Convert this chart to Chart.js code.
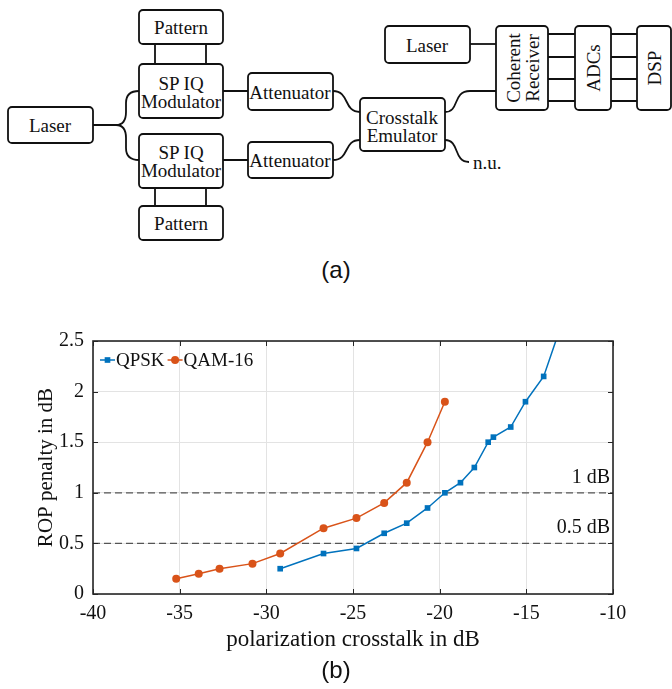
<!DOCTYPE html>
<html>
<head>
<meta charset="utf-8">
<script src="https://cdn.jsdelivr.net/npm/chart.js@4/dist/chart.umd.min.js"></script>
<style>
  html, body { margin: 0; padding: 0; background: white; }
  #page { position: relative; width: 672px; height: 689px; overflow: hidden; background: white; }
  #diagram { position: absolute; left: 0; top: 0; }
  #diagram text { font-family: 'Liberation Serif', serif; font-size: 19px; fill: #111; }
  .box { fill: white; stroke: #111; stroke-width: 1.8; }
  .wire { fill: none; stroke: #111; stroke-width: 1.8; }
  .cap { position: absolute; width: 672px; text-align: center; font-family: 'Liberation Sans', Arial, sans-serif; font-size: 24px; color: #111; }
  #chartWrap { position: absolute; left: 0; top: 320px; width: 672px; height: 340px; }
</style>
</head>
<body>
<div id="page">
  <svg id="diagram" width="672" height="250" xmlns="http://www.w3.org/2000/svg">
    <!-- wires -->
    <path class="wire" d="M155 44 V64 M206 44 V64 M155 188 V206 M206 188 V206"/>
    <path class="wire" d="M223 91 H248 M223 160 H248"/>
    <path class="wire" d="M93 125 H116 Q126 125 126 112 V103 Q126 91 139 91"/>
    <path class="wire" d="M116 125 Q126 125 126 138 V148 Q126 160 139 160"/>
    <path class="wire" d="M333 91 C350 91 343 112 360 112"/>
    <path class="wire" d="M333 160 C350 160 343 140 360 140"/>
    <path class="wire" d="M445 112 C460 112 452 91 470 91 H496"/>
    <path class="wire" d="M445 140 C460 140 453 162 469 162"/>
    <path class="wire" d="M470 44 H496"/>
    <path class="wire" d="M548 34 H575 M548 57 H575 M548 79 H575 M548 101 H575"/>
    <path class="wire" d="M611 34 H637 M611 57 H637 M611 79 H637 M611 101 H637"/>
    <!-- boxes -->
    <rect class="box" x="139" y="10" width="84" height="34" rx="4"/>
    <rect class="box" x="139" y="64" width="84" height="54" rx="4"/>
    <rect class="box" x="139" y="134" width="84" height="54" rx="4"/>
    <rect class="box" x="139" y="206" width="84" height="34" rx="4"/>
    <rect class="box" x="8" y="107" width="85" height="36" rx="4"/>
    <rect class="box" x="248" y="73" width="85" height="37" rx="4"/>
    <rect class="box" x="248" y="142" width="85" height="36" rx="4"/>
    <rect class="box" x="360" y="98" width="85" height="53" rx="4"/>
    <rect class="box" x="385" y="26" width="85" height="37" rx="4"/>
    <rect class="box" x="496" y="26" width="52" height="84" rx="4"/>
    <rect class="box" x="575" y="26" width="36" height="84" rx="4"/>
    <rect class="box" x="637" y="26" width="34" height="84" rx="4"/>
    <!-- labels -->
    <g text-anchor="middle" dominant-baseline="central">
      <text x="181" y="27">Pattern</text>
      <text x="181" y="83">SP IQ</text>
      <text x="181" y="101">Modulator</text>
      <text x="181" y="152">SP IQ</text>
      <text x="181" y="170">Modulator</text>
      <text x="181" y="223">Pattern</text>
      <text x="50" y="125">Laser</text>
      <text x="290" y="92">Attenuator</text>
      <text x="290" y="160">Attenuator</text>
      <text x="402" y="117">Crosstalk</text>
      <text x="402" y="135">Emulator</text>
      <text x="427" y="45">Laser</text>
      <text transform="translate(513 68) rotate(-90)">Coherent</text>
      <text transform="translate(532 68) rotate(-90)">Receiver</text>
      <text transform="translate(593 68) rotate(-90)">ADCs</text>
      <text transform="translate(654 68) rotate(-90)">DSP</text>
    </g>
    <text x="473" y="162" dominant-baseline="central">n.u.</text>
  </svg>
  <div class="cap" style="top:256px;">(a)</div>
  <div id="chartWrap"><canvas id="resultChart" width="672" height="340"></canvas></div>
  <div class="cap" style="top:656px;">(b)</div>
</div>

<script>
// values
var xTicks = [-40, -35, -30, -25, -20, -15, -10]
var yTicks = [0, 0.5, 1, 1.5, 2, 2.5]

var qpskX = [-29.2, -26.7, -24.8, -23.2, -21.9, -20.7, -19.7, -18.8, -18.0, -17.2, -16.9, -15.9, -15.05, -14.0, -13.0]
var qpskY = [0.25, 0.40, 0.45, 0.60, 0.70, 0.85, 1.00, 1.10, 1.25, 1.50, 1.55, 1.65, 1.90, 2.15, 2.65]

var qamX = [-35.2, -33.9, -32.7, -30.8, -29.2, -26.7, -24.8, -23.2, -21.9, -20.7, -19.7]
var qamY = [0.15, 0.20, 0.25, 0.30, 0.40, 0.65, 0.75, 0.90, 1.10, 1.50, 1.90]

var refY = [1, 0.5]
var refLabels = ["1 dB", "0.5 dB"]

var seriesNames = ["QPSK", "QAM-16"]
var serif = "'Liberation Serif', 'Times New Roman', serif"
var axisColor = "#262626"

function pairs(xs, ys){
    return xs.map((x, i) => ({ x: x, y: ys[i] }))
}

var datasets = [
    {
        label: seriesNames[0],
        data: pairs(qpskX, qpskY),
        borderColor: "#0072BD",
        backgroundColor: "#0072BD",
        borderWidth: 1.5,
        pointStyle: "rect",
        pointRadius: 4,
        pointBorderWidth: 0
    },
    {
        label: seriesNames[1],
        data: pairs(qamX, qamY),
        borderColor: "#D95319",
        backgroundColor: "#D95319",
        borderWidth: 1.5,
        pointStyle: "circle",
        pointRadius: 4,
        pointBorderWidth: 0
    }
]

refY.forEach(function(v){
    datasets.push({
        label: "",
        isRef: true,
        data: [{ x: xTicks[0], y: v }, { x: xTicks[xTicks.length - 1], y: v }],
        borderColor: "#555555",
        borderWidth: 1.3,
        borderDash: [7, 4],
        pointRadius: 0
    })
})

// box, inside ticks, legend and the dB labels (MATLAB look)
var matlabLook = {
    id: "matlabLook",
    afterDraw(chart) {
        const ctx = chart.ctx
        const a = chart.chartArea
        const xs = chart.scales.x
        const ys = chart.scales.y

        ctx.save()
        ctx.strokeStyle = axisColor
        ctx.lineWidth = 1
        xTicks.forEach(function(t){
            const px = Math.round(xs.getPixelForValue(t)) + 0.5
            ctx.beginPath()
            ctx.moveTo(px, a.bottom); ctx.lineTo(px, a.bottom - 5)
            ctx.moveTo(px, a.top); ctx.lineTo(px, a.top + 5)
            ctx.stroke()
        })
        yTicks.forEach(function(t){
            const py = Math.round(ys.getPixelForValue(t)) + 0.5
            ctx.beginPath()
            ctx.moveTo(a.left, py); ctx.lineTo(a.left + 5, py)
            ctx.moveTo(a.right, py); ctx.lineTo(a.right - 5, py)
            ctx.stroke()
        })
        ctx.lineWidth = 1.6
        ctx.strokeRect(a.left, a.top, a.right - a.left, a.bottom - a.top)

        // reference labels
        ctx.fillStyle = "#111"
        ctx.font = "20px " + serif
        ctx.textAlign = "right"
        ctx.textBaseline = "alphabetic"
        refY.forEach(function(v, i){
            ctx.fillText(refLabels[i], a.right - 3, ys.getPixelForValue(v) - 10)
        })

        // legend
        let cx = a.left + 7
        const cy = a.top + 19
        ctx.font = "19px " + serif
        ctx.textAlign = "left"
        ctx.textBaseline = "middle"
        chart.data.datasets.forEach(function(ds){
            if (ds.isRef) return
            ctx.strokeStyle = ds.borderColor
            ctx.lineWidth = 1.5
            ctx.beginPath()
            ctx.moveTo(cx, cy); ctx.lineTo(cx + 15, cy)
            ctx.stroke()
            ctx.fillStyle = ds.backgroundColor
            Chart.helpers.drawPoint(ctx, { pointStyle: ds.pointStyle, radius: 4, rotation: 0, borderWidth: 0 }, cx + 7.5, cy)
            ctx.fillStyle = "#111"
            ctx.fillText(ds.label, cx + 16, cy + 1)
            cx += 16 + ctx.measureText(ds.label).width + 3
        })
        ctx.restore()
    }
}

var ctx = document.getElementById("resultChart").getContext("2d")
var chart = new Chart(ctx, {
    type: "line",
    data: { datasets: datasets },
    plugins: [matlabLook],
    options: {
        responsive: false,
        animation: false,
        events: [],
        layout: { padding: { top: 18, right: 59, left: 0, bottom: 0 } },
        plugins: {
            legend: { display: false },
            tooltip: { enabled: false }
        },
        scales: {
            x: {
                type: "linear",
                min: xTicks[0],
                max: xTicks[xTicks.length - 1],
                afterBuildTicks: function(scale){ scale.ticks = xTicks.map(v => ({ value: v })) },
                afterFit: function(scale){ scale.height = 66 },
                ticks: { color: "#111", font: { family: serif, size: 20 }, padding: 8, maxRotation: 0,
                         callback: function(v){ return String(v) } },
                grid: { color: "#e3e3e3", lineWidth: 1, drawTicks: false },
                border: { display: false },
                title: {
                    display: true,
                    text: "polarization crosstalk in dB",
                    color: "#111",
                    font: { family: serif, size: 23 },
                    padding: { top: 0, bottom: 6 }
                }
            },
            y: {
                type: "linear",
                min: yTicks[0],
                max: yTicks[yTicks.length - 1],
                afterBuildTicks: function(scale){ scale.ticks = yTicks.map(v => ({ value: v })) },
                afterFit: function(scale){ scale.width = 93 },
                ticks: { color: "#111", font: { family: serif, size: 20 }, padding: 9,
                         callback: function(v){ return String(v) } },
                grid: { color: "#e3e3e3", lineWidth: 1, drawTicks: false },
                border: { display: false },
                title: {
                    display: true,
                    text: "ROP penalty in dB",
                    color: "#111",
                    font: { family: serif, size: 21 },
                    padding: { top: 34, bottom: 0 }
                }
            }
        }
    }
})
</script>
</body>
</html>
